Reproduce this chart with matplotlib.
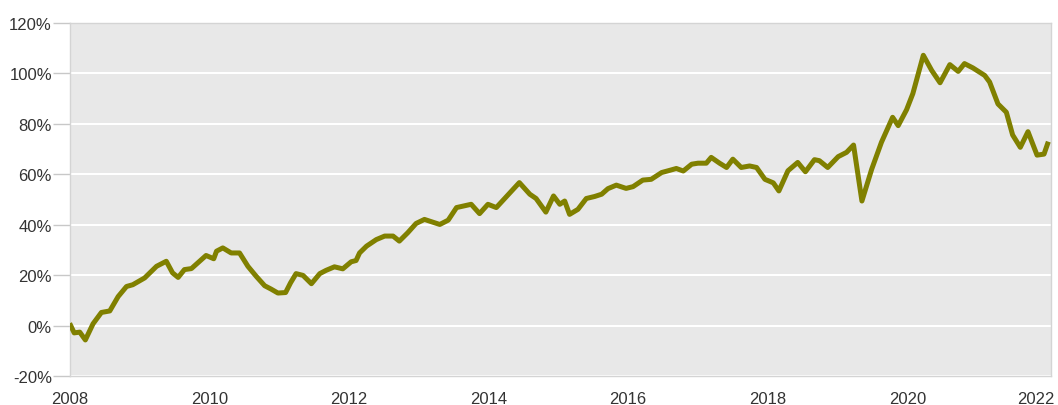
import matplotlib
matplotlib.use("Agg")
import matplotlib.pyplot as plt
import matplotlib.transforms as mtransforms
from matplotlib.ticker import FuncFormatter

# decimal years and cumulative return in %
dates = [2008.01, 2008.06, 2008.14, 2008.22, 2008.33, 2008.45, 2008.57, 2008.69, 2008.81, 2008.90,
         2009.07, 2009.24, 2009.38, 2009.47, 2009.55, 2009.64, 2009.74, 2009.95,
         2010.06, 2010.10, 2010.19, 2010.31, 2010.43, 2010.55, 2010.67, 2010.79, 2010.88, 2010.98,
         2011.09, 2011.16, 2011.24, 2011.34, 2011.46, 2011.58, 2011.67, 2011.79, 2011.91,
         2012.03, 2012.10, 2012.15, 2012.25, 2012.39, 2012.51, 2012.63, 2012.72, 2012.84, 2012.96,
         2013.08, 2013.30, 2013.42, 2013.54, 2013.75, 2013.87, 2013.99,
         2014.11, 2014.44, 2014.59, 2014.68, 2014.82, 2014.93,
         2015.02, 2015.09, 2015.16, 2015.28, 2015.40, 2015.52, 2015.62, 2015.71, 2015.83, 2015.97,
         2016.07, 2016.21, 2016.33, 2016.48, 2016.60, 2016.69, 2016.79, 2016.91,
         2017.00, 2017.12, 2017.19, 2017.31, 2017.41, 2017.50, 2017.62, 2017.74, 2017.84, 2017.96,
         2018.08, 2018.16, 2018.29, 2018.43, 2018.54, 2018.67, 2018.74, 2018.86,
         2019.01, 2019.13, 2019.23, 2019.35, 2019.49, 2019.63, 2019.79, 2019.87, 2019.99,
         2020.08, 2020.23, 2020.35, 2020.47, 2020.61, 2020.73, 2020.82, 2020.94,
         2021.11, 2021.18, 2021.30, 2021.42, 2021.51, 2021.62, 2021.73, 2021.86, 2021.96, 2022.01]
values = [0.0, -2.9, -2.6, -5.7, 0.7, 5.2, 5.8, 11.5, 15.5, 16.2,
          18.9, 23.5, 25.5, 20.9, 19.1, 22.2, 22.6, 27.8,
          26.5, 29.5, 30.8, 28.8, 28.8, 23.5, 19.5, 15.8, 14.5, 12.9,
          13.1, 16.9, 20.6, 19.9, 16.6, 20.6, 21.9, 23.3, 22.5,
          25.3, 25.8, 28.8, 31.5, 34.1, 35.5, 35.5, 33.5, 36.8, 40.5,
          42.1, 40.1, 41.8, 46.8, 48.1, 44.4, 48.1,
          46.8, 56.7, 52.1, 50.4, 45.0, 51.4,
          48.1, 49.4, 44.1, 46.1, 50.4, 51.2, 52.1, 54.3, 55.7, 54.4,
          55.1, 57.7, 58.0, 60.7, 61.6, 62.3, 61.3, 64.0,
          64.4, 64.4, 66.7, 64.4, 62.7, 66.0, 62.7, 63.3, 62.7, 58.0,
          56.6, 53.4, 61.4, 64.7, 61.0, 65.8, 65.4, 62.7,
          67.0, 68.7, 71.6, 49.4, 62.0, 72.7, 82.6, 79.3, 85.6,
          92.0, 107.2, 101.2, 96.3, 103.5, 100.8, 103.9, 102.2,
          99.2, 96.6, 87.9, 84.6, 75.6, 70.7, 76.9, 67.6, 68.0, 72.0]

year_ticks = [2008, 2010, 2012, 2014, 2016, 2018, 2020, 2022]
pct_ticks = [-20, 0, 20, 40, 60, 80, 100, 120]

plt.rcParams['font.family'] = ['Liberation Sans', 'DejaVu Sans']

fig = plt.figure(figsize=(10.58, 4.06), dpi=100)
ax = fig.add_axes([70 / 1058, 29 / 406, 981 / 1058, 353 / 406])
ax.set_facecolor('#e8e8e8')

ax.plot(dates, values, color='#808000', linewidth=3.6, solid_joinstyle='round', zorder=3)

ax.set_xlim(2008, 2022.06)
ax.set_ylim(-20, 120)
ax.set_xticks(year_ticks)
ax.set_yticks(pct_ticks)
ax.yaxis.set_major_formatter(FuncFormatter(lambda v, p: f"{v:.0f}%"))
ax.grid(axis='y', color='white', linewidth=1.5, zorder=1)
ax.grid(axis='x', visible=False)
ax.set_axisbelow(True)

for s in ax.spines.values():
    s.set_color('#d4d4d4')
    s.set_linewidth(1)

ax.tick_params(axis='y', length=12, width=1, color='#c8c8c8', pad=1, labelsize=12, labelcolor='#333333')
ax.tick_params(axis='x', length=0, pad=11, labelsize=12, labelcolor='#333333')

# last year label pulled inside the figure
last = ax.get_xticklabels()[-1]
last.set_transform(last.get_transform() + mtransforms.ScaledTranslation(-11 / 100, 0, fig.dpi_scale_trans))

fig.savefig('out.png', dpi=100)
